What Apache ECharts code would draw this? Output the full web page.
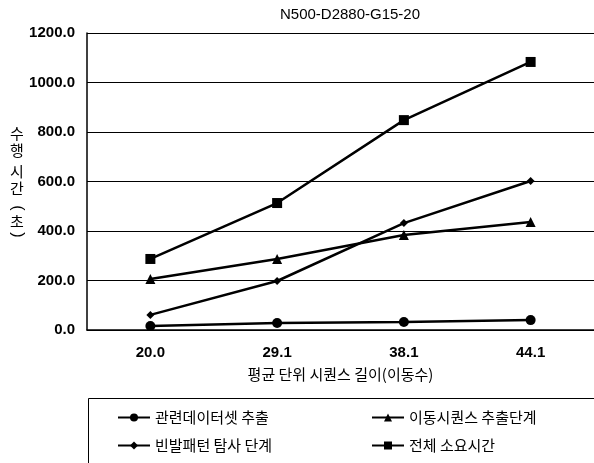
<!DOCTYPE html>
<html>
<head>
<meta charset="utf-8">
<script src="https://cdn.jsdelivr.net/npm/echarts@6/dist/echarts.min.js"></script>
<style>
  html, body { margin: 0; padding: 0; background: #fff; }
  #chart-panel { width: 594px; height: 463px; }
</style>
</head>
<body>
<div id="chart-panel"></div>
<script>
var categories = ['20.0', '29.1', '38.1', '44.1'];
var names = ['관련데이터셋 추출', '이동시퀀스 추출단계', '빈발패턴 탐사 단계', '전체 소요시간'];
var datasetExtract = [16, 28, 32, 40];
var moveSeqExtract = [206, 287, 384, 436];
var patternSearch = [61, 198, 432, 602];
var totalTime = [287, 513, 848, 1083];
var yTicks = [0, 200, 400, 600, 800, 1000, 1200];

var chart = document.getElementById('chart-panel');
var myChart = echarts.init(chart);

var latin = 'Liberation Sans, Arial, sans-serif';
var kor = 'Noto Sans CJK KR, sans-serif';

function line(name, data, symbol, size) {
  return {
    name: name,
    type: 'line',
    data: data,
    symbol: symbol,
    symbolSize: size,
    animation: false,
    lineStyle: { color: '#000', width: 2.5 },
    itemStyle: { color: '#000' }
  };
}

// vertical axis title, one glyph per line (brackets turned on their side)
var yName = [['수', 133, 0], ['행', 150, 0], ['시', 171, 0], ['간', 188, 0],
             ['(', 208, -Math.PI / 2], ['초', 221, 0], [')', 235, -Math.PI / 2]];

var option = {
  backgroundColor: '#fff',
  title: {
    text: 'N500-D2880-G15-20',
    left: 345,
    textAlign: 'center',
    top: 2,
    textStyle: { fontFamily: latin, fontSize: 15, fontWeight: 'normal', color: '#000' }
  },
  grid: { left: 87, top: 33, width: 511, height: 297 },
  xAxis: {
    type: 'category',
    data: categories,
    boundaryGap: true,
    axisTick: { show: false },
    axisLine: { lineStyle: { color: '#000', width: 1.5 } },
    axisLabel: { color: '#000', fontFamily: latin, fontSize: 15, fontWeight: 'bold', margin: 15 },
    name: '평균 단위 시퀀스 길이(이동수)',
    nameLocation: 'middle',
    nameGap: 37,
    nameTextStyle: { color: '#000', fontFamily: kor, fontSize: 15 }
  },
  yAxis: {
    type: 'value',
    min: 0,
    max: yTicks[yTicks.length - 1],
    interval: 200,
    axisLine: { show: true, lineStyle: { color: '#000', width: 1.5 } },
    axisTick: { show: false },
    splitLine: { lineStyle: { color: '#000', width: 1 } },
    axisLabel: {
      color: '#000', fontFamily: latin, fontSize: 15, fontWeight: 'bold', margin: 12,
      formatter: function (v) { return v.toFixed(1); }
    }
  },
  legend: [
    {
      data: [names[0], names[2]],
      orient: 'vertical',
      left: 112,
      top: 405,
      itemWidth: 32,
      itemHeight: 10,
      itemGap: 13,
      textStyle: { fontFamily: kor, fontSize: 15, color: '#000' }
    },
    {
      data: [names[1], names[3]],
      orient: 'vertical',
      left: 366,
      top: 405,
      itemWidth: 32,
      itemHeight: 10,
      itemGap: 13,
      textStyle: { fontFamily: kor, fontSize: 15, color: '#000' }
    }
  ],
  graphic: [
    {
      type: 'rect',
      shape: { x: 88.5, y: 398.5, width: 520, height: 80 },
      style: { fill: 'none', stroke: '#000', lineWidth: 1 },
      silent: true
    }
  ].concat(yName.map(function (c) {
    return {
      type: 'text',
      x: 17,
      y: c[1],
      rotation: c[2],
      style: {
        text: c[0], fill: '#000',
        font: c[2] ? '16px ' + latin : '15px ' + kor,
        align: 'center', verticalAlign: 'middle'
      },
      silent: true
    };
  })),
  series: [
    line(names[0], datasetExtract, 'circle', 10),
    line(names[1], moveSeqExtract, 'triangle', 10),
    line(names[2], patternSearch, 'diamond', 8),
    line(names[3], totalTime, 'rect', 10)
  ]
};

myChart.setOption(option);
</script>
</body>
</html>
